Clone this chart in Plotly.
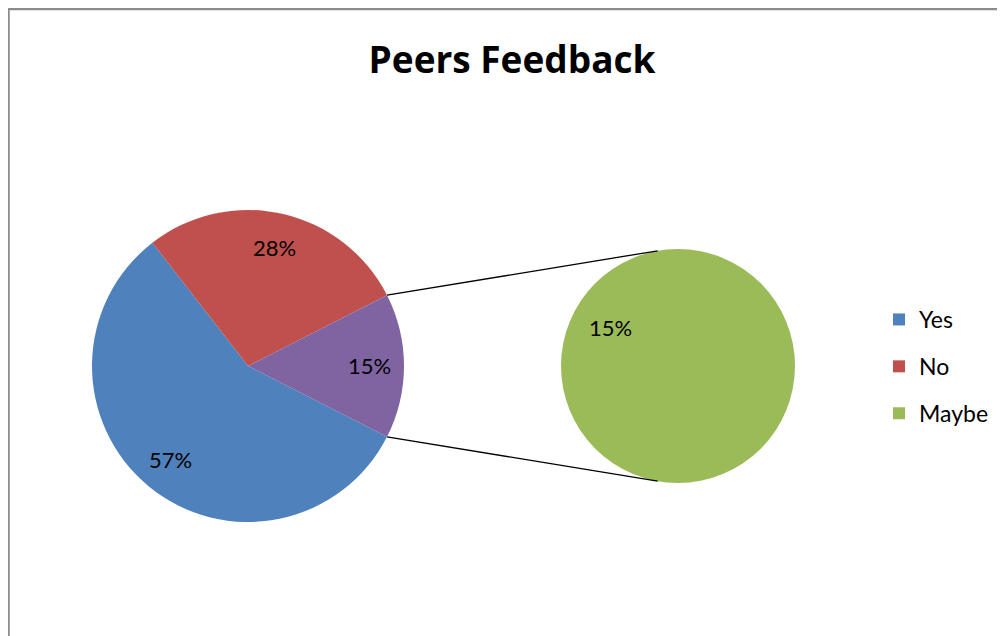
import math
import plotly.graph_objects as go

# ---- data ----
categories = ["Yes", "No", "Maybe"]
percents = [57, 28, 15]
cat_colors = ["#4F81BD", "#C0504D", "#9BBB59"]
other_label = "Other"
other_color = "#8064A2"
title_text = "Peers Feedback"

# ---- layout geometry (pixels in the page; the page body has an 8px margin) ----
OFF = 8
W, H = 1005 - OFF, 636 - OFF
main_c, main_r = (248, 366), 156
sec_c, sec_r = (678, 366), 117
FONT = "Lato, Carlito, 'Open Sans', sans-serif"
TITLE_FONT = "'Open Sans', Lato, sans-serif"

def to_paper(px, py):
    return (px - OFF) / W, 1 - (py - OFF) / H

def dom(c, r):
    x0, y0 = to_paper(c[0] - r, c[1] + r)
    x1, y1 = to_paper(c[0] + r, c[1] - r)
    return dict(x=[x0, x1], y=[y0, y1])

main_labels = categories[:2] + [other_label]
main_values = percents[:2] + [sum(percents[2:])]
main_colors = cat_colors[:2] + [other_color]
total = sum(main_values)

half_span = main_values[-1] / total * 360 / 2

fig = go.Figure()
fig.add_trace(go.Pie(
    labels=main_labels, values=main_values, sort=False,
    direction="clockwise", rotation=90 + half_span,
    marker=dict(colors=main_colors, line=dict(width=0)),
    textinfo="none",
    domain=dom(main_c, main_r), showlegend=False, hoverinfo="label+percent",
))
fig.add_trace(go.Pie(
    labels=categories[2:], values=percents[2:], sort=False,
    marker=dict(colors=cat_colors[2:], line=dict(width=0)),
    textinfo="none",
    domain=dom(sec_c, sec_r), showlegend=False, hoverinfo="label+value",
))

annotations = []
# main pie labels at 0.78 r along each slice's mid-angle
start = 90 + half_span  # clockwise-from-top start angle of first slice
acc = 0
for lab, v in zip(main_labels, main_values):
    mid_cw = start + (acc + v / 2) / total * 360
    acc += v
    ang = math.radians(90 - mid_cw)
    px = main_c[0] + 0.78 * main_r * math.cos(ang)
    py = main_c[1] - 0.78 * main_r * math.sin(ang)
    x, y = to_paper(px, py)
    annotations.append(dict(x=x, y=y, xref="paper", yref="paper", showarrow=False,
                            xanchor="center", yanchor="middle",
                            text=f"{v}%", font=dict(family=FONT, size=22, color="#000")))

# secondary pie label
lx, ly = to_paper(sec_c[0] - 0.58 * sec_r, sec_c[1] - 0.33 * sec_r)
annotations.append(dict(x=lx, y=ly, xref="paper", yref="paper", showarrow=False,
                        xanchor="center", yanchor="middle",
                        text=f"{percents[2]}%", font=dict(family=FONT, size=22, color="#000")))

# legend via dummy traces
for i, (name, col) in enumerate(zip(categories, cat_colors)):
    fig.add_trace(go.Scatter(x=[None], y=[None], mode="markers", name=name,
                             legendgroup=f"g{i}",
                             marker=dict(symbol="square", size=12, color=col)))

# connector lines
shapes = []
for sgn, sec_ang in ((1, 100), (-1, 260)):
    a = math.radians(sgn * half_span)
    x0, y0 = to_paper(main_c[0] + main_r * math.cos(a), main_c[1] - main_r * math.sin(a))
    b = math.radians(sec_ang)
    x1, y1 = to_paper(sec_c[0] + sec_r * math.cos(b), sec_c[1] - sec_r * math.sin(b))
    shapes.append(dict(type="line", xref="paper", yref="paper", x0=x0, y0=y0, x1=x1, y1=y1,
                       line=dict(color="#000000", width=1.3)))
# chart border
bx0, by0 = to_paper(8.5, 9)
shapes.append(dict(type="rect", xref="paper", yref="paper", x0=bx0, y0=-0.05, x1=1.05, y1=by0,
                   line=dict(color="#8C8C8C", width=2.5), layer="below"))

tx, ty = to_paper(512, 60)
lgx, lgy = to_paper(879, 298)
fig.update_layout(
    width=W, height=H, margin=dict(l=0, r=0, t=0, b=0),
    paper_bgcolor="white", plot_bgcolor="white",
    title=dict(text=f"<b>{title_text}</b>", x=tx, xanchor="center",
               y=ty, yanchor="middle",
               font=dict(family=TITLE_FONT, size=37, color="#000000")),
    xaxis=dict(visible=False), yaxis=dict(visible=False),
    legend=dict(x=lgx, y=lgy, xanchor="left", yanchor="top",
                font=dict(family=FONT, size=23, color="#000000"),
                tracegroupgap=14, itemwidth=30, bgcolor="rgba(0,0,0,0)"),
    shapes=shapes, annotations=annotations,
)

fig.write_html("out.html")
